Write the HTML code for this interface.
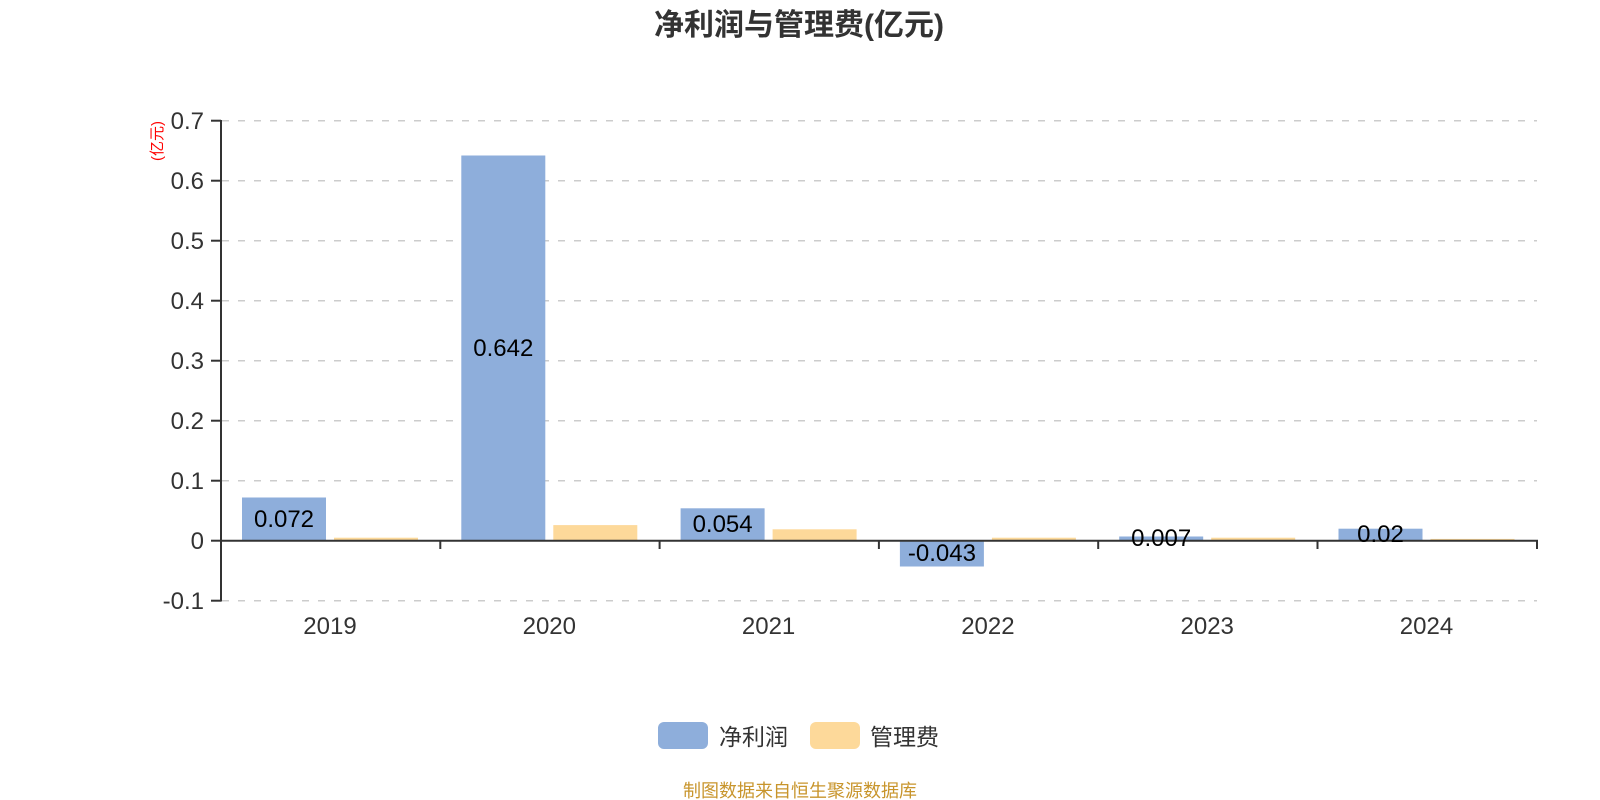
<!DOCTYPE html>
<html><head><meta charset="utf-8"><style>
html,body{margin:0;padding:0;background:#fff;}
svg{display:block;}
text{font-family:"Liberation Sans","Noto Sans CJK SC",sans-serif;}
</style></head><body>
<svg width="1600" height="800" viewBox="0 0 1600 800" xmlns="http://www.w3.org/2000/svg">
<text x="799" y="35" text-anchor="middle" font-size="30" font-weight="bold" fill="#333">净利润与管理费(亿元)</text>
<text transform="translate(162,141) rotate(-90)" text-anchor="middle" font-size="15" fill="#f00">(亿元)</text>
<g stroke="#ccc" stroke-width="1.5" stroke-dasharray="7,9">
<line x1="222" y1="120.7" x2="1537" y2="120.7"/>
<line x1="222" y1="180.7" x2="1537" y2="180.7"/>
<line x1="222" y1="240.7" x2="1537" y2="240.7"/>
<line x1="222" y1="300.7" x2="1537" y2="300.7"/>
<line x1="222" y1="360.7" x2="1537" y2="360.7"/>
<line x1="222" y1="420.7" x2="1537" y2="420.7"/>
<line x1="222" y1="480.7" x2="1537" y2="480.7"/>
<line x1="222" y1="600.7" x2="1537" y2="600.7"/>
</g>
<g font-size="24" fill="#333" text-anchor="end">
<text x="204" y="129">0.7</text>
<text x="204" y="189">0.6</text>
<text x="204" y="249">0.5</text>
<text x="204" y="309">0.4</text>
<text x="204" y="369">0.3</text>
<text x="204" y="429">0.2</text>
<text x="204" y="489">0.1</text>
<text x="204" y="549">0</text>
<text x="204" y="609">-0.1</text>
</g>
<g fill="#8eaedb">
<rect x="242" y="497.5" width="84" height="43.2"/>
<rect x="461.3" y="155.5" width="84" height="385.2"/>
<rect x="680.6" y="508.3" width="84" height="32.4"/>
<rect x="899.9" y="540.7" width="84" height="25.8"/>
<rect x="1119.2" y="536.5" width="84" height="4.2"/>
<rect x="1338.5" y="528.7" width="84" height="12"/>
</g>
<g fill="#fdd99a">
<rect x="334" y="537.7" width="84" height="3"/>
<rect x="553.3" y="525.1" width="84" height="15.6"/>
<rect x="772.6" y="529.3" width="84" height="11.4"/>
<rect x="991.9" y="537.7" width="84" height="3"/>
<rect x="1211.2" y="537.7" width="84" height="3"/>
<rect x="1430.5" y="538.9" width="84" height="1.8"/>
</g>
<g stroke="#333" stroke-width="2" fill="none">
<line x1="221" y1="120" x2="221" y2="601.5"/>
<line x1="211" y1="120.7" x2="221" y2="120.7"/>
<line x1="211" y1="180.7" x2="221" y2="180.7"/>
<line x1="211" y1="240.7" x2="221" y2="240.7"/>
<line x1="211" y1="300.7" x2="221" y2="300.7"/>
<line x1="211" y1="360.7" x2="221" y2="360.7"/>
<line x1="211" y1="420.7" x2="221" y2="420.7"/>
<line x1="211" y1="480.7" x2="221" y2="480.7"/>
<line x1="211" y1="540.7" x2="221" y2="540.7"/>
<line x1="211" y1="600.7" x2="221" y2="600.7"/>
<line x1="221" y1="540.7" x2="1538" y2="540.7"/>
<line x1="440.3" y1="540.7" x2="440.3" y2="549"/>
<line x1="659.6" y1="540.7" x2="659.6" y2="549"/>
<line x1="878.9" y1="540.7" x2="878.9" y2="549"/>
<line x1="1098.2" y1="540.7" x2="1098.2" y2="549"/>
<line x1="1317.5" y1="540.7" x2="1317.5" y2="549"/>
<line x1="1537" y1="540.7" x2="1537" y2="549"/>
</g>
<g font-size="24" fill="#000" text-anchor="middle">
<text x="284" y="527">0.072</text>
<text x="503.3" y="356">0.642</text>
<text x="722.6" y="532">0.054</text>
<text x="941.9" y="561">-0.043</text>
<text x="1161.2" y="546">0.007</text>
<text x="1380.5" y="542">0.02</text>
</g>
<g font-size="24" fill="#333" text-anchor="middle">
<text x="330" y="634">2019</text>
<text x="549.3" y="634">2020</text>
<text x="768.6" y="634">2021</text>
<text x="987.9" y="634">2022</text>
<text x="1207.2" y="634">2023</text>
<text x="1426.5" y="634">2024</text>
</g>
<rect x="658" y="722" width="50" height="27" rx="6" fill="#8eaedb"/>
<text x="719" y="745" font-size="23" fill="#333">净利润</text>
<rect x="810" y="722" width="50" height="27" rx="6" fill="#fdd99a"/>
<text x="870" y="745" font-size="23" fill="#333">管理费</text>
<text x="800" y="797" text-anchor="middle" font-size="18" fill="#c8952c">制图数据来自恒生聚源数据库</text>
</svg>
</body></html>
